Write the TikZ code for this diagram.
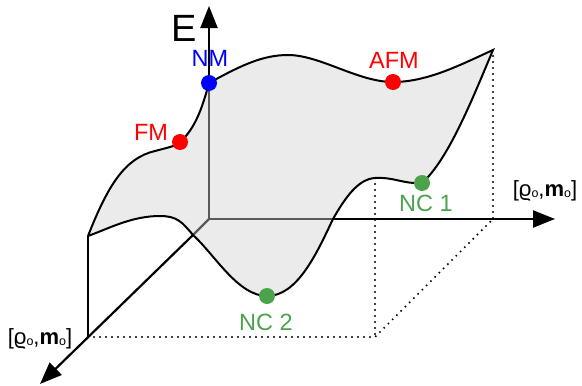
\documentclass[tikz,border=0pt]{standalone}
\usepackage{fontspec}
\setmainfont{Liberation Sans}
\usetikzlibrary{arrows.meta}
\definecolor{surf}{HTML}{EBEBEB}
\definecolor{axgray}{HTML}{5A5A5A}
\definecolor{ncgreen}{HTML}{4CA34C}
\tikzset{
  axis/.style={line width=2.2pt,black},
  hidden/.style={line width=2.2pt,axgray},
  tip/.style={-{Triangle[length=22pt,width=17pt]}},
  edge/.style={line width=2pt,black},
  dots/.style={line width=2.2pt,black,dash pattern=on 0pt off 6pt,line cap=round},
  dotmark/.style={circle,inner sep=0pt,minimum size=16pt},
  lbl/.style={font=\fontsize{23.5}{27}\selectfont,inner sep=0pt},
  coordlbl/.style={font=\fontsize{22}{25}\selectfont,inner sep=0pt}
}
\newcommand{\subo}{\raisebox{-0.04em}{\fontsize{12.5}{13}\selectfont o}}
\newcommand{\rhoc}{[ϱ\subo,\textbf{m}\subo]}
\begin{document}
\begin{tikzpicture}[x=1pt,y=-1pt]
\useasboundingbox (0,0) rectangle (582,386);
% key points
\coordinate (O) at (209,219);
\coordinate (A) at (88,236);
\coordinate (FM) at (180,142);
\coordinate (NM) at (209,83);
\coordinate (T1) at (288,55);
\coordinate (AFM) at (393,82);
\coordinate (B) at (493,50);
\coordinate (NC1) at (422,183);
\coordinate (H) at (375,178);
\coordinate (X1) at (333,219);
\coordinate (NC2) at (267,296);
\coordinate (X2) at (193,235);
\coordinate (P) at (160,216);
\coordinate (Etip) at (209,6);
\coordinate (Rtip) at (555,219);
\coordinate (Dtip) at (40,384);
\coordinate (BL) at (88,337);
\coordinate (BM) at (375,337);
\coordinate (BR) at (493,219);
% surface fill
\fill[surf] (A) .. controls (108,185) and (125,158) .. (155,151)
  .. controls (170,147) and (176,146) .. (FM)
  .. controls (196,128) and (203,105) .. (NM)
  .. controls (240,66) and (262,55) .. (T1)
  .. controls (320,55) and (358,82) .. (AFM)
  .. controls (428,82) and (462,64) .. (B)
  .. controls (472,100) and (448,160) .. (NC1)
  .. controls (402,184) and (395,177) .. (H)
  .. controls (358,179) and (345,198) .. (X1)
  .. controls (316,255) and (297,296) .. (NC2)
  .. controls (238,296) and (215,255) .. (X2)
  .. controls (182,222) and (177,216) .. (P)
  .. controls (132,216) and (110,228) .. (A) -- cycle;
% hidden axis parts
\draw[hidden] (NM) -- (O) -- (X1);
\draw[hidden] (O) -- (X2);
% dotted base
\draw[dots] (BL) -- (BM) -- (BR);
\draw[dots] (B) -- (BR);
\draw[dots] (H) -- (BM);
% surface outline
\draw[edge] (A) .. controls (108,185) and (125,158) .. (155,151)
  .. controls (170,147) and (176,146) .. (FM)
  .. controls (196,128) and (203,105) .. (NM)
  .. controls (240,66) and (262,55) .. (T1)
  .. controls (320,55) and (358,82) .. (AFM)
  .. controls (428,82) and (462,64) .. (B)
  .. controls (472,100) and (448,160) .. (NC1)
  .. controls (402,184) and (395,177) .. (H)
  .. controls (358,179) and (345,198) .. (X1)
  .. controls (316,255) and (297,296) .. (NC2)
  .. controls (238,296) and (215,255) .. (X2)
  .. controls (182,222) and (177,216) .. (P)
  .. controls (132,216) and (110,228) .. (A);
\draw[edge] (A) -- (BL);
% visible axis parts
\draw[axis,tip] (NM) -- (Etip);
\draw[axis,tip] (X1) -- (Rtip);
\draw[axis,tip] (X2) -- (Dtip);
% points
\node[dotmark,fill=blue] (nm) at (NM) {};
\node[dotmark,fill=red] (fm) at (FM) {};
\node[dotmark,fill=red] (afm) at (AFM) {};
\node[dotmark,fill=ncgreen] (nc1) at (NC1) {};
\node[dotmark,fill=ncgreen] (nc2) at (NC2) {};
% labels
\node[font=\fontsize{38}{40}\selectfont,inner sep=0pt] (E) at (184,28) {E};
\node[lbl,text=blue] (nmL) at (210,58) {NM};
\node[lbl,text=red] (fmL) at (151,132) {FM};
\node[lbl,text=red] (afmL) at (394,60) {AFM};
\node[lbl,text=ncgreen] (nc1L) at (426,203) {NC 1};
\node[lbl,text=ncgreen] (nc2L) at (266,322) {NC 2};
\node[coordlbl] (rL) at (545,191) {\rhoc};
\node[coordlbl] (lL) at (40,339) {\rhoc};
\end{tikzpicture}
\end{document}
